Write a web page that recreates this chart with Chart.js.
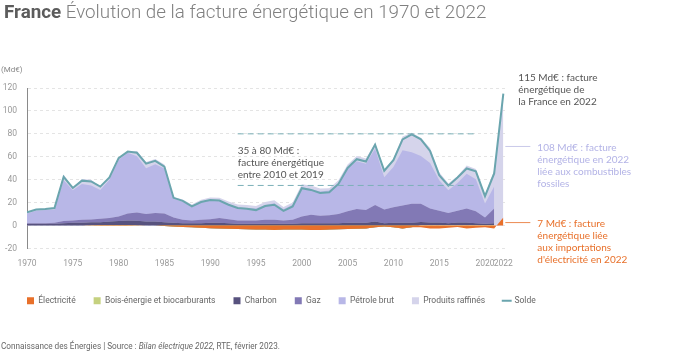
<!DOCTYPE html>
<html lang="fr">
<head>
<meta charset="utf-8">
<script src="https://cdn.jsdelivr.net/npm/chart.js@4.4.0/dist/chart.umd.min.js"></script>
<style>
  html, body { margin: 0; padding: 0; background: #fff; }
  #wrap { position: relative; width: 700px; height: 351px; overflow: hidden; font-family: Roboto, sans-serif; }
  #title { position: absolute; left: 4px; top: 1px; font-size: 18.8px; color: #808080; font-weight: 300; white-space: nowrap; }
  #title b { color: #5c5c5c; font-weight: 700; }
  #unit { position: absolute; left: 1px; top: 65px; font-size: 8px; color: #888; }
  #source { position: absolute; left: 1px; top: 341px; font-size: 8.2px; color: #666; white-space: nowrap; }
  canvas { position: absolute; left: 0; top: 0; }
</style>
</head>
<body>
<div id="wrap">
  <canvas id="chart" width="700" height="351"></canvas>
  <div id="title"><b>France</b> Évolution de la facture énergétique en 1970 et 2022</div>
  <div id="unit">(Md€)</div>
  <div id="source">Connaissance des Énergies | Source : <i>Bilan électrique 2022</i>, RTE, février 2023.</div>
</div>
<script>
// years 1970 -> 2022
const years = [1970,1971,1972,1973,1974,1975,1976,1977,1978,1979,
  1980,1981,1982,1983,1984,1985,1986,1987,1988,1989,
  1990,1991,1992,1993,1994,1995,1996,1997,1998,1999,
  2000,2001,2002,2003,2004,2005,2006,2007,2008,2009,
  2010,2011,2012,2013,2014,2015,2016,2017,2018,2019,
  2020,2021,2022];

// Md€ per energy (stacked layers)
const electricite = [0,0,0,0,0,0,0,0.3,0.5,0.5,
  0.5,0.5,0.3,0,0,-0.3,-0.8,-1.2,-1.5,-2,
  -2.3,-2.5,-2.8,-3,-3.2,-3.5,-3.5,-3.8,-3.5,-3.5,
  -3.5,-3.8,-3.8,-3.5,-3.3,-3,-2.8,-2.5,-1.5,-0.8,
  -1.5,-2.5,-1.5,-1.5,-2.5,-2.5,-2,-1.2,-2.5,-2,
  -1.5,-2.5,7];
const bois = [0,0,0,0,0,0,0,0,0,0,
  0,0,0,0,0,0,0,0,0,0,
  0,0,0,0,0,0,0,0,0,0,
  0,0,0,0,0,0,0,0,0,0,
  0,0,0,0.6,0.6,0.6,0.6,0.6,0.6,0.6,
  0.6,0.6,null];
const charbon = [1.5,1.5,1.5,1.5,2,2.5,2.5,2.5,2.5,3,
  3.5,4,4,3.5,3.5,3,2.5,2,2,2,
  2.5,2.5,2,1.5,1.5,1.5,1.5,1.5,1.5,1.5,
  2,2,2,2,2,2.5,2.5,2.5,3.5,2,
  2.5,2.5,2.5,2.5,2,2,1.5,2,2,1.5,
  1,1.5,null];
const gaz = [0.5,0.5,0.5,1,2,2,2.5,2.5,3,3,
  4,6,7,6.5,7.5,7.5,4.5,3,2.5,3,
  3,4,3.5,3,3,3,3.5,3.5,3,3.5,
  6,7.5,6.5,7,8,10,12,11,14.5,12,
  13.5,15,16.5,15.9,12.4,10.4,8.9,10.4,12.4,10.4,
  5.4,12.9,null];
const petroleBrut = [8.5,11,11.5,11.3,35.5,26.3,31.2,29.7,25,33.5,
  49.3,53,49.2,40,42.5,39.3,16.5,15.7,11.8,15.5,
  16.5,14.8,13,11.3,10.9,10.5,13,14.5,9.8,13.2,
  25.6,22.4,21.3,21.6,27.1,37.3,41.7,40.4,49.1,28.1,
  35,48.2,45,41.7,39.6,26.5,19.8,24.2,30.3,27.8,
  12.2,19,null];
const produitsRaffines = [1,1,1,1.5,5,2,4.5,5,3,2,
  1.5,1,4.5,5.5,4.5,3.5,1.5,2,2,2,
  2.5,3,2.5,2.5,2.5,2,2.5,2.5,2,2,
  2.5,3,2.5,2,2.5,3.5,4.5,4.5,5,6.5,
  7.5,12,17,16,13,7,6,6,7,9,
  8,14,108];
// total bill (line)
const solde = [11.5,14,14.5,15.3,42.5,32.8,39.2,38.5,34,42,
  58.8,64.5,63.5,54,56.5,51.5,24.2,21.5,16.8,20.5,
  22.2,21.8,18.2,15.3,14.7,13.5,17,18.2,12.8,16.7,
  32.6,31.1,28.5,29.1,36.3,50.3,57.9,55.9,70.6,47.8,
  57,75.2,79.5,75.2,65.1,44,34.8,42,49.8,47.3,
  25.7,45.5,115];

const xTicks = [1970,1975,1980,1985,1990,1995,2000,2005,2010,2015,2020,2022];

const pts = arr => years.map((yr, i) => ({x: yr, y: arr[i]}));

const layer = (label, arr, color, fill) => ({
  label, data: pts(arr), backgroundColor: color, borderColor: color,
  borderWidth: 0, pointRadius: 0, fill, pointStyle: 'rect', tension: 0
});

const notes = {
  id: 'notes',
  afterLayout(chart) {
    // line the legend up with the y axis
    chart.legend.left += 9;
    chart.legend.right += 9;
  },
  afterDatasetsDraw(chart) {
    const {ctx, scales: {x, y}} = chart;
    const x22 = x.getPixelForValue(2022);
    ctx.save();
    // 2010-2019 range
    ctx.strokeStyle = '#7cb0b8';
    ctx.lineWidth = 1;
    ctx.setLineDash([6, 4]);
    [80, 35].forEach(v => {
      ctx.beginPath();
      ctx.moveTo(x.getPixelForValue(1993), y.getPixelForValue(v));
      ctx.lineTo(x.getPixelForValue(2019.2), y.getPixelForValue(v));
      ctx.stroke();
    });
    ctx.setLineDash([]);
    ctx.font = '10px Lato';
    ctx.textBaseline = 'middle';
    const block = (lines, x0, y0, color) => {
      ctx.fillStyle = color;
      lines.forEach((t, i) => ctx.fillText(t, x0, y0 + i * 12.2));
    };
    const y80 = y.getPixelForValue(80);
    block(['35 à 80 Md€ :', 'facture énergétique', 'entre 2010 et 2019'],
      x.getPixelForValue(1993), y80 + 17, '#555');
    block(['115 Md€ : facture', 'énergétique de', 'la France en 2022'],
      x22 + 15, y.getPixelForValue(115) - 16, '#555');

    // connectors
    const yFos = y.getPixelForValue(69);
    const yEl = y.getPixelForValue(2.6);
    ctx.strokeStyle = '#c9c9ea';
    ctx.beginPath(); ctx.moveTo(x22 + 2, yFos); ctx.lineTo(x22 + 27, yFos); ctx.stroke();
    ctx.strokeStyle = '#ec8a52';
    ctx.beginPath(); ctx.moveTo(x22 + 2, yEl); ctx.lineTo(x22 + 27, yEl); ctx.stroke();

    block(['108 Md€ : facture', 'énergétique en 2022', 'liée aux combustibles', 'fossiles'],
      x22 + 34, yFos + 1, '#b3b3e6');
    block(['7 Md€ : facture', 'énergétique liée', 'aux importations', 'd\'électricité en 2022'],
      x22 + 34, yEl + 1, '#e8702a');
    ctx.restore();
  }
};

new Chart(document.getElementById('chart'), {
  type: 'line',
  data: {
    datasets: [
      layer('Électricité', electricite, '#e8702a', 'origin'),
      layer('Bois-énergie et biocarburants', bois, '#c5d17f', 'origin'),
      layer('Charbon', charbon, '#57527e', '-1'),
      layer('Gaz', gaz, '#8279b5', '-1'),
      layer('Pétrole brut', petroleBrut, '#b8b7e7', '-1'),
      layer('Produits raffinés', produitsRaffines, '#d5d4eb', 'origin'),
      {
        label: 'Solde', data: pts(solde), stack: 'solde', order: -1,
        borderColor: '#6aa5ae', backgroundColor: '#6aa5ae', borderWidth: 2,
        pointRadius: 0, fill: false, pointStyle: 'line', tension: 0
      }
    ]
  },
  options: {
    responsive: false,
    animation: false,
    devicePixelRatio: 1,
    layout: { padding: { top: 88, left: 0, right: 0, bottom: 36 } },
    plugins: {
      tooltip: { enabled: false },
      legend: {
        position: 'bottom',
        align: 'start',
        labels: {
          sort: (a, b) => a.datasetIndex - b.datasetIndex,
          usePointStyle: true,
          boxWidth: 7,
          boxHeight: 7,
          padding: 18,
          color: '#666',
          font: { family: 'Roboto', size: 8.5 }
        }
      }
    },
    scales: {
      x: {
        type: 'linear',
        min: 1970,
        max: 2022.4,
        afterBuildTicks: s => { s.ticks = xTicks.map(v => ({value: v})); },
        afterFit: s => { s.height = 30; },
        grid: { display: false },
        border: { display: false },
        ticks: {
          autoSkip: false, maxRotation: 0, padding: 2,
          color: '#999', font: { family: 'Roboto', size: 8.5 },
          callback: v => String(v)
        }
      },
      y: {
        stacked: true,
        min: -20,
        max: 120,
        afterFit: s => { s.width = 27; },
        grid: { color: '#e4e4e4', drawTicks: false },
        border: { display: true, color: '#8a8a8a', width: 1, dash: [3, 3] },
        ticks: {
          stepSize: 20, padding: 10,
          color: '#999', font: { family: 'Roboto', size: 8.5 }
        }
      },
      // empty right-hand band that holds the annotations
      side: {
        position: 'right',
        grid: { display: false },
        border: { display: false },
        ticks: { display: false },
        afterFit: s => { s.width = 193; }
      }
    }
  },
  plugins: [notes]
});
</script>
</body>
</html>
